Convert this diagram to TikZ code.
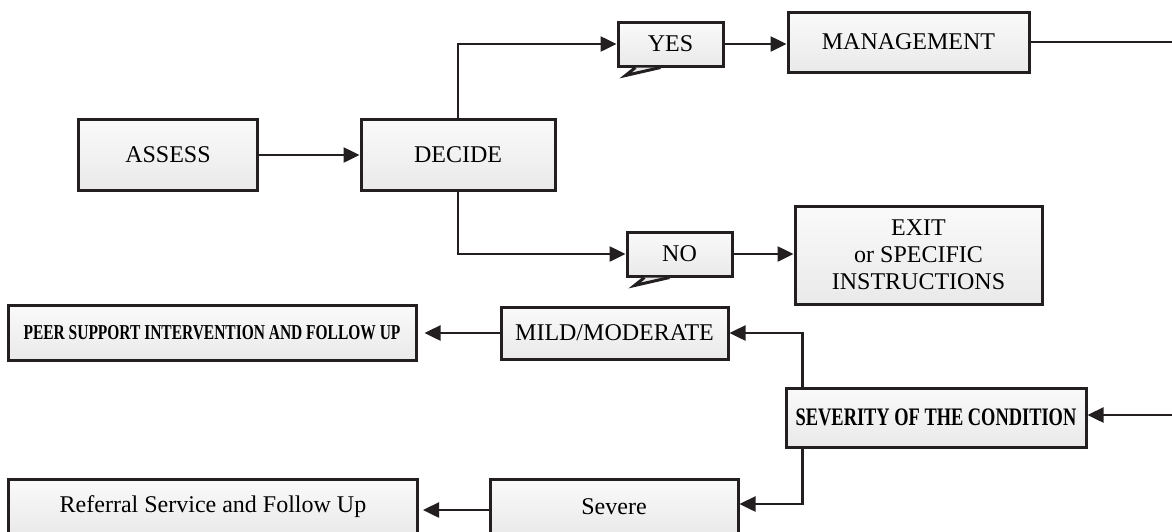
\documentclass[tikz,border=0pt]{standalone}
\usepackage{fontspec}
\setmainfont{Liberation Serif}
\newfontfamily\condfont{Liberation Serif}[FakeStretch=0.73]
\usepackage{tikz}
\usetikzlibrary{arrows.meta}
\definecolor{ink}{HTML}{231F20}
\tikzset{box/.style={draw=ink,line width=1.5pt,top color=gray!4,bottom color=gray!17,
        inner sep=0pt,align=center,font=\fontsize{12}{13.5}\selectfont},
    boldbox/.style={box,font=\condfont\bfseries\fontsize{10.6}{12}\selectfont},
    arr/.style={draw=ink,line width=1.25pt,-{Triangle[length=8pt,width=7.5pt]}},
    link/.style={draw=ink,line width=1.25pt}}
\newcommand\calltail[1]{\draw[ink,line width=1.5pt,fill=gray!17,line join=miter]
    ([xshift=22pt]#1.south west) -- ([xshift=4.5pt,yshift=-4pt]#1.south west)
    -- ([xshift=9.5pt]#1.south west);}

\begin{document}
\begin{tikzpicture}[x=0.5pt,y=-0.5pt]
    \useasboundingbox (0,0) rectangle (1172,531);

    \node [box,minimum width=89.5pt,minimum height=35.5pt] (assess) at (168,155) {ASSESS};
    \node [box,minimum width=97pt,minimum height=35.5pt] (decide) at (458,155) {DECIDE};
    \node [box,minimum width=52.5pt,minimum height=22pt] (yes) at (670.5,44) {YES};
    \node [box,minimum width=120.5pt,minimum height=30pt] (mgmt) at (908.5,42) {MANAGEMENT};
    \node [box,minimum width=52.5pt,minimum height=22pt] (no) at (679.5,254) {NO};
    \node [box,minimum width=123.5pt,minimum height=49pt] (exit) at (918.5,255)
        {EXIT\\ or SPECIFIC\\ INSTRUCTIONS};
    \calltail{yes}
    \calltail{no}

    \node [boldbox,minimum width=204pt,minimum height=27.5pt] (peer) at (212,333)
        {PEER SUPPORT INTERVENTION AND FOLLOW UP};
    \node [box,minimum width=113.5pt,minimum height=26pt] (mild) at (614.5,333) {MILD/MODERATE};
    \node [boldbox,font=\condfont\bfseries\fontsize{12.6}{14}\selectfont,
        minimum width=150pt,minimum height=29.5pt] (sev) at (936,417.5)
        {SEVERITY OF THE CONDITION};
    \node [box,minimum width=124pt,minimum height=28pt] (severe) at (614,507) {Severe};
    \node [box,minimum width=204.5pt,minimum height=28pt] (referral) at (213,507)
        {Referral Service and Follow Up};

    \coordinate (mgmtout) at (1172,42);
    \coordinate (sevin) at (1172,415);

    % top part
    \draw [arr] (assess) -- (decide);
    \draw [arr] (decide.north) |- (yes.west);
    \draw [arr] (yes.east) -- (yes.east -| mgmt.west);
    \draw [link] (mgmt.east) -- (mgmtout);
    \draw [arr] (decide.south) |- (no.west);
    \draw [arr] (no.east) -- (no.east -| exit.west);

    % severity part
    \draw [arr] (sevin) -- (sevin -| sev.east);
    \draw [arr] ([xshift=9pt]sev.north west) |- (mild.east);
    \draw [arr] ([xshift=9pt]sev.south west) |- ([yshift=1.5pt]severe.east);
    \draw [arr,shorten >=3.5pt] (mild.west) -- (peer.east);
    \draw [arr,shorten >=2pt] ([yshift=-1.5pt]severe.west) -- ([yshift=-1.5pt]referral.east);
\end{tikzpicture}
\end{document}
